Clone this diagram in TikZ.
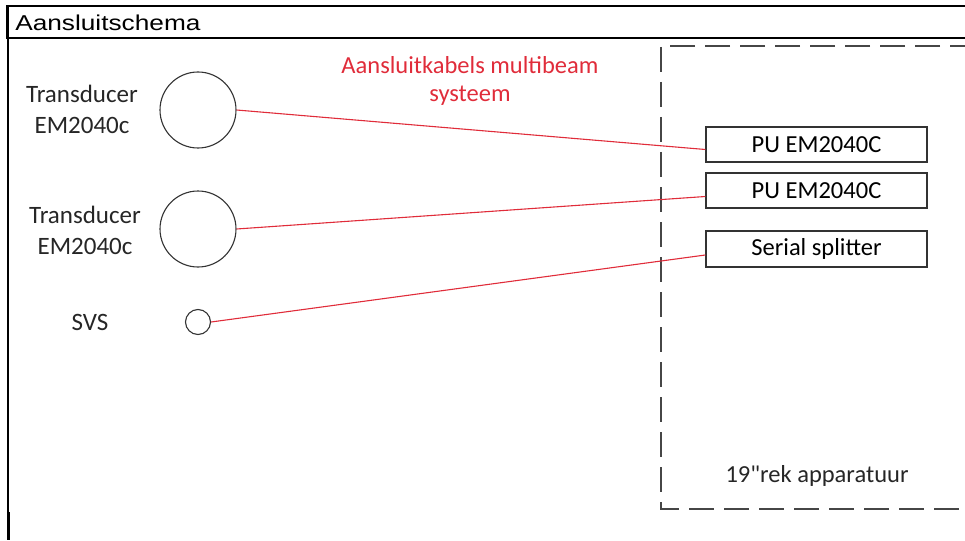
\documentclass[tikz,border=0pt]{standalone}
\usepackage{fontspec}
\setmainfont{Carlito}[Ligatures=TeXOff]
\newfontfamily\titlefont{Liberation Sans}
\usepackage{tikz}
\definecolor{cable}{RGB}{224,44,58}
\definecolor{rackgray}{RGB}{70,70,70}
\tikzstyle{frameLine} = [line width=2pt, black]
\tikzstyle{sensor} = [draw=black!80, circle, line width=1.1pt, inner sep=0pt]
\tikzstyle{unit} = [draw=black!80, rectangle, line width=1.3pt, minimum width=221pt,
   minimum height=35pt, inner sep=0pt, font=\fontsize{24.5}{28}\selectfont]
\tikzstyle{lbl} = [align=center, text=black!85, font=\fontsize{25}{31}\selectfont]
\tikzstyle{cableLine} = [cable, line width=1.1pt]
\tikzstyle{rack} = [rackgray, line width=1.8pt, dash pattern=on 25pt off 10pt]

\begin{document}
\begin{tikzpicture}[x=1pt,y=-1pt]
  			\useasboundingbox (0,0) rectangle (965,540);

  			% frame and header
  			\draw[frameLine] (965,6.5) -- (7,6.5) -- (7,38) -- (965,38);
  			\draw[line width=1.6pt] (8,6.5) -- (8,512);
  			\draw[line width=2.6pt] (8.5,512) -- (8.5,540);
  			\node[anchor=west, font=\titlefont\fontsize{21.5}{24}\selectfont, xscale=1.22, transform shape] (title) at (11,22.5) {Aansluitschema};

  			% rack
  			\draw[rack] (975,46) -| (661,509) -- (975,509);
  			\node[lbl, font=\fontsize{24.5}{28}\selectfont] (rek) at (817,476) {19"rek apparatuur};

  			% sensors
	  		\node[sensor, minimum size=76pt] (c1) at (198,110) {};
  			\node[sensor, minimum size=76pt] (c2) at (198,229) {};
  			\node[sensor, minimum size=25pt] (c3) at (198,322) {};
  			\node[lbl] (td1) at (82,109) {Transducer\\EM2040c};
  			\node[lbl] (td2) at (85,230) {Transducer\\EM2040c};
  			\node[lbl] (svs) at (90,322) {SVS};

  			% units in the rack
			\node[unit] (pu1) at (816.5,144.5) {PU EM2040C};
			\node[unit] (pu2) at (816.5,190.5) {PU EM2040C};
			\node[unit, minimum height=36pt] (split) at (816.5,249) {Serial splitter};

  			% cables
  			\node[lbl, text=cable, font=\fontsize{24.5}{28}\selectfont] (kabels) at (470,81) {Aansluitkabels multibeam\\systeem};
  			\draw[cableLine] (c1.east) -- ([yshift=-5pt]pu1.west);
  			\draw[cableLine] (c2.east) -- ([yshift=-6pt]pu2.west);
			\draw[cableLine] (c3.east) -- ([yshift=-6pt]split.west);
		\end{tikzpicture}
\end{document}
